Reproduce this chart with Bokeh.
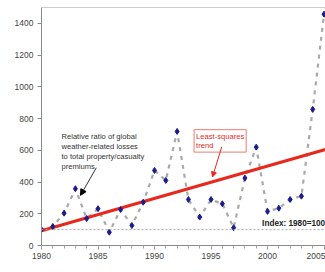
import numpy as np
from bokeh.plotting import figure
from bokeh.models import (Range1d, Span, Label, Arrow, NormalHead, FixedTicker,
                          ColumnDataSource)
from bokeh.embed import file_html
from bokeh.resources import INLINE

years = list(range(1980, 2006))
ratio = [100, 120, 204, 358, 170, 232, 84, 227, 126, 273,
         473, 410, 719, 290, 179, 290, 263, 112, 425, 620,
         215, 235, 290, 311, 858, 1458]
y_ticks = [0, 200, 400, 600, 800, 1000, 1200, 1400]
x_ticks = [1980, 1985, 1990, 1995, 2000, 2005]
index_base = 100

FONT = "Liberation Sans"

p = figure(width=325, height=272, output_backend="svg", toolbar_location=None,
           x_range=Range1d(1980, 2005.13), y_range=Range1d(0, 1500),
           min_border_left=41, min_border_right=0, min_border_top=7,
           min_border_bottom=27)
p.grid.visible = False
p.outline_line_color = None
p.background_fill_color = "white"
p.border_fill_color = "white"

for ax in (p.xaxis[0], p.yaxis[0]):
    ax.axis_line_color = "#8a8a8a"
    ax.major_tick_line_color = "#8a8a8a"
    ax.minor_tick_line_color = "#a0a0a0"
    ax.major_label_text_font = FONT
    ax.major_label_text_font_size = "8.5px"
    ax.major_label_text_color = "#444444"
    ax.major_tick_in = 0
    ax.major_tick_out = 4
    ax.minor_tick_in = 0
    ax.minor_tick_out = 3
p.xaxis[0].ticker = FixedTicker(ticks=x_ticks, minor_ticks=years)
p.yaxis[0].ticker = FixedTicker(ticks=y_ticks, minor_ticks=[])
p.yaxis[0].major_label_standoff = 4
p.xaxis[0].major_label_standoff = 3

# top border
p.add_layout(Span(location=1500, dimension="width", line_color="#9a9a9a", line_width=1))

# index line
p.add_layout(Span(location=index_base, dimension="width", line_color="#a8a8a8",
                  line_width=1, line_dash="2 2"))

src = ColumnDataSource(dict(x=years, y=ratio))

# connecting dashed line
p.line("x", "y", source=src, line_color="#a9a9a9", line_width=2.2, line_dash="4 5")

# least-squares trend
slope, intercept = np.polyfit(np.array(years, dtype=float), np.array(ratio, dtype=float), 1)
tx = [1980, 2005.13]
ty = [slope * t + intercept for t in tx]
p.line(tx, ty, line_color="#e8281c", line_width=3)

# markers
p.scatter("x", "y", source=src, marker="diamond", size=6, fill_color="#1b1b8f",
          line_color="#1b1b8f")

# annotation 1
p.add_layout(Label(x=1981.77, y=718, text="Relative ratio of global\nweather-related losses\nto total property/casualty\npremiums",
                   text_font=FONT, text_font_size="7.6px", text_color="#333333",
                   text_baseline="top", text_line_height=1.12))
p.add_layout(Arrow(x_start=1984.85, y_start=490, x_end=1983.45, y_end=316,
                   line_color="#333333", line_width=1,
                   end=NormalHead(size=6, fill_color="black", line_color="black")))

# annotation 2
p.add_layout(Label(x=1993.5, y=730, text="Least-squares\ntrend",
                   text_font=FONT, text_font_size="7.6px", text_color="#e8281c",
                   text_baseline="top", text_line_height=1.05,
                   border_line_color="#ee7b72", border_line_width=1,
                   background_fill_color="white", padding=2))
p.add_layout(Arrow(x_start=1995.95, y_start=622, x_end=1995.13, y_end=432,
                   line_color="#e8281c", line_width=1,
                   end=NormalHead(size=5, fill_color="#e8281c", line_color="#e8281c")))

# index label
p.add_layout(Label(x=2005.1, y=index_base, text="Index: 1980=100", text_font=FONT,
                   text_font_size="8.2px", text_font_style="bold", text_color="#222222",
                   text_align="right", text_baseline="bottom", y_offset=2))

open("out.html", "w").write(file_html(p, INLINE))
